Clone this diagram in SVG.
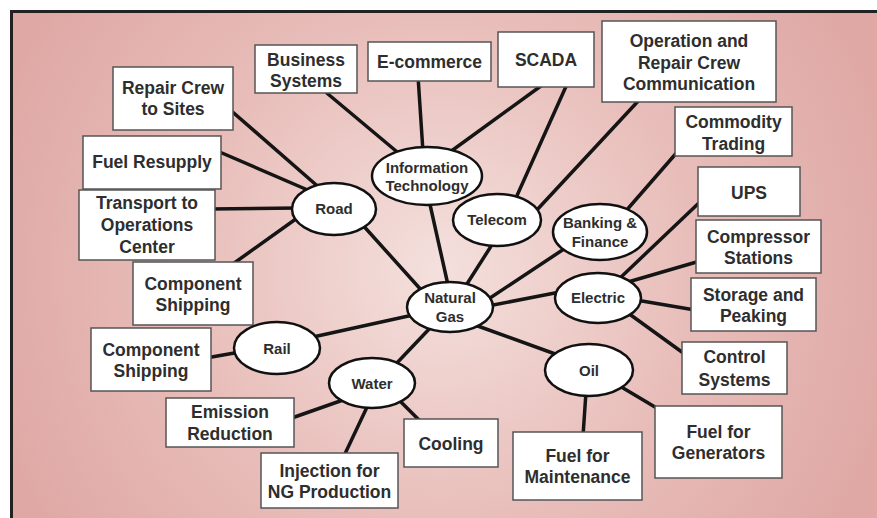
<svg xmlns="http://www.w3.org/2000/svg" width="877" height="518" viewBox="0 0 877 518">
<style>
.box rect{fill:#fff;stroke:#555;stroke-width:1.5}
.ell ellipse{fill:#fff;stroke:#111;stroke-width:2.5}
.bt{font-family:"Liberation Sans",Arial,sans-serif;font-weight:bold;font-size:17.5px;fill:#2e2e2e;text-anchor:middle}
.et{font-family:"Liberation Sans",Arial,sans-serif;font-weight:bold;font-size:15px;fill:#2e2e2e;text-anchor:middle}
#connectors line{stroke:#151515;stroke-width:3.5;stroke-linecap:round}
</style>
<defs>
<radialGradient id="bg" gradientUnits="userSpaceOnUse" cx="440" cy="270" r="470">
<stop offset="0" stop-color="#f4e0dd"/>
<stop offset="0.55" stop-color="#e8bdb9"/>
<stop offset="1" stop-color="#dfa8a5"/>
</radialGradient>
</defs>
<rect x="0" y="0" width="877" height="518" fill="#fff"/>
<rect x="11.5" y="11.5" width="900" height="600" fill="url(#bg)" stroke="#222" stroke-width="3"/>
<g id="connectors">
<line x1="228" y1="108" x2="322" y2="190"/>
<line x1="215" y1="150" x2="310" y2="191"/>
<line x1="210" y1="209" x2="298" y2="208"/>
<line x1="230" y1="266" x2="300" y2="216"/>
<line x1="360" y1="222" x2="423" y2="292"/>
<line x1="322" y1="89" x2="402" y2="156"/>
<line x1="418" y1="76" x2="423" y2="152"/>
<line x1="545" y1="83" x2="450" y2="152"/>
<line x1="429" y1="200" x2="448" y2="285"/>
<line x1="568" y1="82" x2="515" y2="200"/>
<line x1="641" y1="98" x2="535" y2="212"/>
<line x1="495" y1="240" x2="465" y2="287"/>
<line x1="679" y1="150" x2="625" y2="212"/>
<line x1="567" y1="247" x2="487" y2="300"/>
<line x1="702" y1="200" x2="619" y2="279"/>
<line x1="700" y1="261" x2="628" y2="282"/>
<line x1="695" y1="310" x2="636" y2="300"/>
<line x1="686" y1="355" x2="628" y2="313"/>
<line x1="560" y1="292" x2="488" y2="306"/>
<line x1="475" y1="325" x2="558" y2="355"/>
<line x1="583" y1="436" x2="586" y2="392"/>
<line x1="660" y1="410" x2="618" y2="385"/>
<line x1="413" y1="315" x2="313" y2="337"/>
<line x1="206" y1="358" x2="240" y2="352"/>
<line x1="432" y1="326" x2="394" y2="366"/>
<line x1="289" y1="419" x2="343" y2="400"/>
<line x1="343" y1="458" x2="368" y2="405"/>
<line x1="422" y1="423" x2="398" y2="399"/>
</g>
<g id="business" class="box"><rect x="255" y="45" width="102" height="48"/><text class="bt" x="306" y="66">Business</text><text class="bt" x="306" y="87">Systems</text></g>
<g id="ecommerce" class="box"><rect x="368" y="42" width="123" height="39"/><text class="bt" x="429.5" y="68">E-commerce</text></g>
<g id="scada" class="box"><rect x="498" y="32" width="96" height="55"/><text class="bt" x="546" y="66">SCADA</text></g>
<g id="operation" class="box"><rect x="602" y="21" width="174" height="81"/><text class="bt" x="689" y="47">Operation and</text><text class="bt" x="689" y="69">Repair Crew</text><text class="bt" x="689" y="90">Communication</text></g>
<g id="commodity" class="box"><rect x="675" y="107" width="117" height="49"/><text class="bt" x="733.5" y="128">Commodity</text><text class="bt" x="733.5" y="150">Trading</text></g>
<g id="ups" class="box"><rect x="698" y="167" width="102" height="49"/><text class="bt" x="749" y="199">UPS</text></g>
<g id="compressor" class="box"><rect x="696" y="220" width="125" height="53"/><text class="bt" x="758.5" y="243">Compressor</text><text class="bt" x="758.5" y="264">Stations</text></g>
<g id="storage" class="box"><rect x="691" y="278" width="125" height="53"/><text class="bt" x="753.5" y="301">Storage and</text><text class="bt" x="753.5" y="322">Peaking</text></g>
<g id="control" class="box"><rect x="682" y="342" width="105" height="52"/><text class="bt" x="734.5" y="363">Control</text><text class="bt" x="734.5" y="386">Systems</text></g>
<g id="fuelgen" class="box"><rect x="655" y="406" width="127" height="72"/><text class="bt" x="718.5" y="438">Fuel for</text><text class="bt" x="718.5" y="459">Generators</text></g>
<g id="fuelmaint" class="box"><rect x="513" y="432" width="129" height="68"/><text class="bt" x="577.5" y="462">Fuel for</text><text class="bt" x="577.5" y="483">Maintenance</text></g>
<g id="cooling" class="box"><rect x="404" y="419" width="94" height="48"/><text class="bt" x="451" y="450">Cooling</text></g>
<g id="injection" class="box"><rect x="261" y="453" width="137" height="55"/><text class="bt" x="329.5" y="477">Injection for</text><text class="bt" x="329.5" y="498">NG Production</text></g>
<g id="emission" class="box"><rect x="166" y="398" width="128" height="49"/><text class="bt" x="230" y="418">Emission</text><text class="bt" x="230" y="440">Reduction</text></g>
<g id="compship-rail" class="box"><rect x="91" y="328" width="120" height="63"/><text class="bt" x="151" y="356">Component</text><text class="bt" x="151" y="377">Shipping</text></g>
<g id="compship-road" class="box"><rect x="133" y="262" width="120" height="63"/><text class="bt" x="193" y="290">Component</text><text class="bt" x="193" y="311">Shipping</text></g>
<g id="transport" class="box"><rect x="79" y="190" width="136" height="70"/><text class="bt" x="147" y="209">Transport to</text><text class="bt" x="147" y="231">Operations</text><text class="bt" x="147" y="253">Center</text></g>
<g id="fuelresupply" class="box"><rect x="83" y="136" width="138" height="53"/><text class="bt" x="152" y="168">Fuel Resupply</text></g>
<g id="repaircrew" class="box"><rect x="113" y="67" width="120" height="63"/><text class="bt" x="173" y="94">Repair Crew</text><text class="bt" x="173" y="115">to Sites</text></g>
<g id="road" class="ell"><ellipse cx="334" cy="209" rx="42" ry="26"/><text class="et" x="334" y="214">Road</text></g>
<g id="it" class="ell"><ellipse cx="427" cy="176" rx="55" ry="29"/><text class="et" x="427" y="173">Information</text><text class="et" x="427" y="191">Technology</text></g>
<g id="telecom" class="ell"><ellipse cx="497" cy="220" rx="44" ry="26"/><text class="et" x="497" y="225">Telecom</text></g>
<g id="banking" class="ell"><ellipse cx="600" cy="232" rx="47" ry="28"/><text class="et" x="600" y="228">Banking &amp;</text><text class="et" x="600" y="247">Finance</text></g>
<g id="electric" class="ell"><ellipse cx="598" cy="298" rx="43" ry="25"/><text class="et" x="598" y="303">Electric</text></g>
<g id="naturalgas" class="ell"><ellipse cx="450" cy="307" rx="43" ry="25"/><text class="et" x="450" y="303">Natural</text><text class="et" x="450" y="322">Gas</text></g>
<g id="oil" class="ell"><ellipse cx="589" cy="370" rx="44" ry="26"/><text class="et" x="589" y="376">Oil</text></g>
<g id="water" class="ell"><ellipse cx="372" cy="383" rx="43" ry="25"/><text class="et" x="372" y="389">Water</text></g>
<g id="rail" class="ell"><ellipse cx="277" cy="348" rx="43" ry="26"/><text class="et" x="277" y="354">Rail</text></g>
</svg>
